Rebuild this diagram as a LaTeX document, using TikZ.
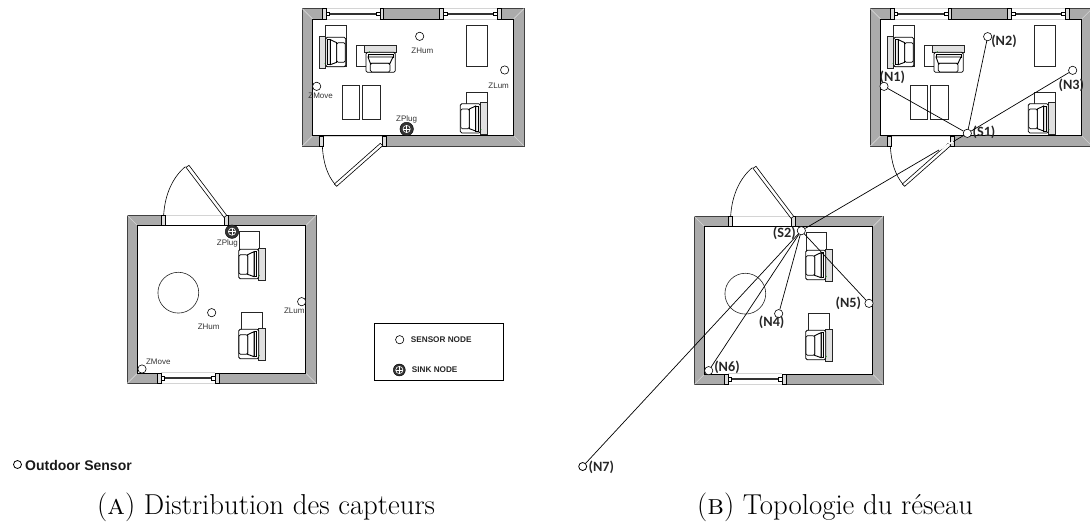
\documentclass[tikz,border=0pt]{standalone}
\usepackage{fontspec}
\usetikzlibrary{calc}
\newfontfamily\arialf{Liberation Sans}
\newfontfamily\calib{Carlito}
\definecolor{wallgray}{HTML}{ABABAB}
\definecolor{mitre}{HTML}{D4D4D4}
\definecolor{labgray}{HTML}{333333}
\tikzset{
  zoomed/.style={x=0.33333pt,y=-0.33333pt},
  wall/.style={fill=wallgray,draw=black!75,line width=.6pt},
  furn/.style={draw=black!85,line width=.6pt,fill=white},
  sensor/.style={circle,draw=black,fill=white,inner sep=0pt,minimum size=8.3pt,line width=.6pt},
  smallsensor/.style={sensor,minimum size=8pt,line width=.8pt},
  sink/.style={circle,draw=black,fill=black!80,inner sep=0pt,minimum size=13.5pt,line width=.4pt,
    path picture={\draw[white,line width=.6pt] (path picture bounding box.center) circle (3.6pt);
      \draw[white,line width=.5pt] ([xshift=-3.6pt]path picture bounding box.center) -- ([xshift=3.6pt]path picture bounding box.center);
      \draw[white,line width=.5pt] ([yshift=-3.6pt]path picture bounding box.center) -- ([yshift=3.6pt]path picture bounding box.center);}},
  zlabel/.style={font=\arialf\fontsize{8}{8}\selectfont,text=labgray,inner sep=0pt},
  nlabel/.style={font=\calib\bfseries\fontsize{14.2}{14.2}\selectfont,text=black!85,inner sep=0pt},
  legendtext/.style={font=\arialf\bfseries\fontsize{8.2}{8.2}\selectfont,text=black!85,inner sep=0pt,anchor=west},
  caption/.style={font=\fontsize{28.8}{29}\selectfont,inner sep=0pt,anchor=base west},
  link/.style={draw=black,line width=.7pt},
}
\newcommand{\armchair}[3]{%
  \begin{scope}[shift={(#1,#2)},#3]
    \filldraw[fill=black!12,draw=black!85,line width=.6pt] (-20,-48) rectangle (0,49);
    \fill[green!80!black] (-2,34) circle (.5pt);
    \filldraw[fill=white,draw=black,line width=.8pt,rounded corners=1.5pt] (0,-44) rectangle (60,44);
    \filldraw[fill=black!6,draw=black,line width=.5pt] (6,-37) -- (14,-37) -- (14,38) -- (6,38) -- cycle;
    \filldraw[fill=white,draw=black,line width=.9pt] (14,-37) -- (33,-28) -- (33,31) -- (14,38) -- cycle;
    \filldraw[fill=white,draw=black,line width=.7pt,rounded corners=1.5pt] (33,-28) rectangle (59,31);
  \end{scope}}
\newcommand{\winsash}[3]{% from x1 to x2 at wall y-range centred on #3
  \fill[white] (#1,#3-16) rectangle (#2,#3+16);
  \draw[mitre,line width=.5pt] (#1,#3+16) -- (#2,#3+16) (#1,#3-16) -- (#2,#3-16);
  \filldraw[fill=white,draw=black!80,line width=.5pt] (#1+10,#3-2) rectangle (#2-10,#3+2);
  \filldraw[fill=wallgray!40,draw=black,line width=.5pt] (#1-11,#3-15) rectangle (#1,#3+16);
  \filldraw[fill=white,draw=black,line width=.5pt] (#1,#3-5) rectangle (#1+11,#3+6);
  \filldraw[fill=wallgray!40,draw=black,line width=.5pt] (#2,#3-15) rectangle (#2+11,#3+16);
  \filldraw[fill=white,draw=black,line width=.5pt] (#2-11,#3-5) rectangle (#2,#3+6);}
\newcommand{\shellroom}[4]{%
  \filldraw[wall] (#1,#2) rectangle (#3,#4);
  \draw[mitre,line width=.6pt] (#1,#2) -- ++(31,31) (#3,#2) -- ++(-31,31) (#1,#4) -- ++(31,-31) (#3,#4) -- ++(-31,-31);
  \filldraw[fill=white,draw=black,line width=.7pt] (#1+31,#2+31) rectangle (#3-31,#4-31);}
\newcommand{\toproom}{%
  \shellroom{37}{26}{702}{438}
  \winsash{108}{270}{41}
  \winsash{460}{622}{41}
  % door
  \fill[white] (100,407) rectangle (278,440);
  \draw[mitre,line width=.5pt] (100,408) -- (278,408);
  \filldraw[fill=wallgray!40,draw=black,line width=.5pt] (88,408) rectangle (100,438);
  \filldraw[fill=wallgray!40,draw=black,line width=.5pt] (278,408) rectangle (289,438);
  \draw[black,line width=.6pt] (97,438) .. controls (100,490) and (112,525) .. (135,553);
  \filldraw[fill=white,draw=black,line width=.6pt] (271,430) -- (278,437) -- (140,559) -- (133,552) -- cycle;
  % furniture
  \filldraw[furn] (107,75) rectangle (168,200);
  \armchair{107}{156}{}
  \filldraw[furn] (198,137) rectangle (260,198);
  \armchair{272}{157}{rotate=-90}
  \filldraw[furn] (529,75) rectangle (592,198);
  \filldraw[furn] (157,257) rectangle (209,359);
  \filldraw[furn] (218,257) rectangle (270,359);
  \filldraw[furn] (530,277) rectangle (592,330);
  \armchair{571}{355}{xscale=-1}
}
\newcommand{\botroom}{%
  \shellroom{52}{136}{618}{640}
  \winsash{153}{316}{624}
  % door
  \fill[white] (165,134) rectangle (342,166);
  \draw[mitre,line width=.5pt] (165,136) -- (342,136);
  \filldraw[fill=wallgray!40,draw=black,line width=.5pt] (155,136) rectangle (165,167);
  \filldraw[fill=wallgray!40,draw=black,line width=.5pt] (343,136) rectangle (355,167);
  \draw[black,line width=.6pt] (161,135) .. controls (165,70) and (190,20) .. (226,-10);
  \filldraw[fill=white,draw=black,line width=.6pt] (342,142) -- (350,136) -- (237,-14) -- (228,-8) -- cycle;
  % furniture
  \filldraw[furn] (205,368) circle (20.4pt);
  \filldraw[furn] (387,185) rectangle (447,245);
  \armchair{446}{282}{xscale=-1}
  \filldraw[furn] (395,427) rectangle (457,485);
  \armchair{446}{522}{xscale=-1}
}
\begin{document}
\begin{tikzpicture}[x=1pt,y=-1pt]
\useasboundingbox (0,0) rectangle (1090,523);
% ---- rooms ----
\begin{scope}[shift={(290,0)},zoomed]\toproom\end{scope}
\begin{scope}[shift={(858,0)},zoomed]\toproom\end{scope}
\begin{scope}[shift={(110,170)},zoomed]\botroom\end{scope}
\begin{scope}[shift={(677,171)},zoomed]\botroom\end{scope}
% ---- (a) top room sensors ----
\begin{scope}[shift={(290,0)},zoomed]
  \node[sensor] (ahum) at (389,109) {};
  \node[zlabel] (ahuml) at (397,153) {ZHum};
  \node[sensor] (alum) at (644,210) {};
  \node[zlabel] (aluml) at (626,256) {ZLum};
  \node[sensor] (amove) at (80,259) {};
  \node[zlabel] (amovel) at (92,286) {ZMove};
  \node[sink] (aplug) at (350,387) {};
  \node[zlabel] (aplugl) at (350,359) {ZPlug};
\end{scope}
% ---- (a) bottom room sensors ----
\begin{scope}[shift={(110,170)},zoomed]
  \node[sink] (bplug) at (366,185) {};
  \node[zlabel] (bplugl) at (352,220) {ZPlug};
  \node[sensor] (bhum) at (305,428) {};
  \node[zlabel] (bhuml) at (296,469) {ZHum};
  \node[sensor] (blum) at (575,395) {};
  \node[zlabel] (bluml) at (553,421) {ZLum};
  \node[sensor] (bmove) at (96,597) {};
  \node[zlabel] (bmovel) at (145,574) {ZMove};
\end{scope}
% ---- legend ----
\node[draw=black,line width=.6pt,fill=white,minimum width=128.6pt,minimum height=57.4pt,inner sep=0pt] (legend) at (439,352) {};
\node[sensor] (lsensor) at (399.7,339.7) {};
\node[legendtext] (lsensort) at (410.7,339.3) {SENSOR NODE};
\node[sink,minimum size=12pt] (lsink) at (399.3,370) {};
\node[legendtext] (lsinkt) at (411.7,370) {SINK NODE};
% ---- outdoor ----
\node[smallsensor] (out) at (17.5,464.5) {};
\node[inner sep=0pt,anchor=west,font=\arialf\bfseries\fontsize{14}{14}\selectfont,text=black!90] (outl) at (25,465.5) {Outdoor Sensor};
% ---- (b) nodes ----
\begin{scope}[shift={(870,0)},zoomed]
  \node[sensor] (n1) at (42,259) {};
  \node[nlabel] (n1l) at (67,232) {(N1)};
  \node[sensor] (n2) at (353,110) {};
  \node[nlabel] (n2l) at (402,125) {(N2)};
  \node[sensor] (n3) at (608,211) {};
  \node[nlabel] (n3l) at (604,255) {(N3)};
  \node[sensor] (s1) at (292,400) {};
  \node[nlabel] (s1l) at (342,396) {(S1)};
\end{scope}
\begin{scope}[shift={(680,170)},zoomed]
  \node[sensor] (s2) at (364,182) {};
  \node[nlabel] (s2l) at (313,190) {(S2)};
  \node[sensor] (n4) at (296,431) {};
  \node[nlabel] (n4l) at (275,458) {(N4)};
  \node[sensor] (n5) at (567,400) {};
  \node[nlabel] (n5l) at (505,401) {(N5)};
  \node[sensor] (n6) at (86,602) {};
  \node[nlabel] (n6l) at (141,593) {(N6)};
\end{scope}
\node[smallsensor] (n7) at (582.7,466.5) {};
\node[nlabel,anchor=west] (n7l) at (588.5,467) {(N7)};
% ---- links ----
\draw[link] (s1) -- (n1);
\draw[link] (s1) -- (n2);
\draw[link] (s1) -- (n3);
\draw[link] (s1) -- (s2);
\draw[white,line width=1.6pt] ($(s1)!0.085!(s2)$) -- ($(s1)!0.17!(s2)$);
\draw[link] (s2) -- (n4);
\draw[link] (s2) -- (n5);
\draw[link] (s2) -- (n6);
\draw[link] (s2) -- (n7);
% ---- captions ----
\node[caption] (capa) at (97,514) {(\textsc{a}) Distribution des capteurs};
\node[caption] (capb) at (697,514) {(\textsc{b}) Topologie du réseau};
\end{tikzpicture}
\end{document}
